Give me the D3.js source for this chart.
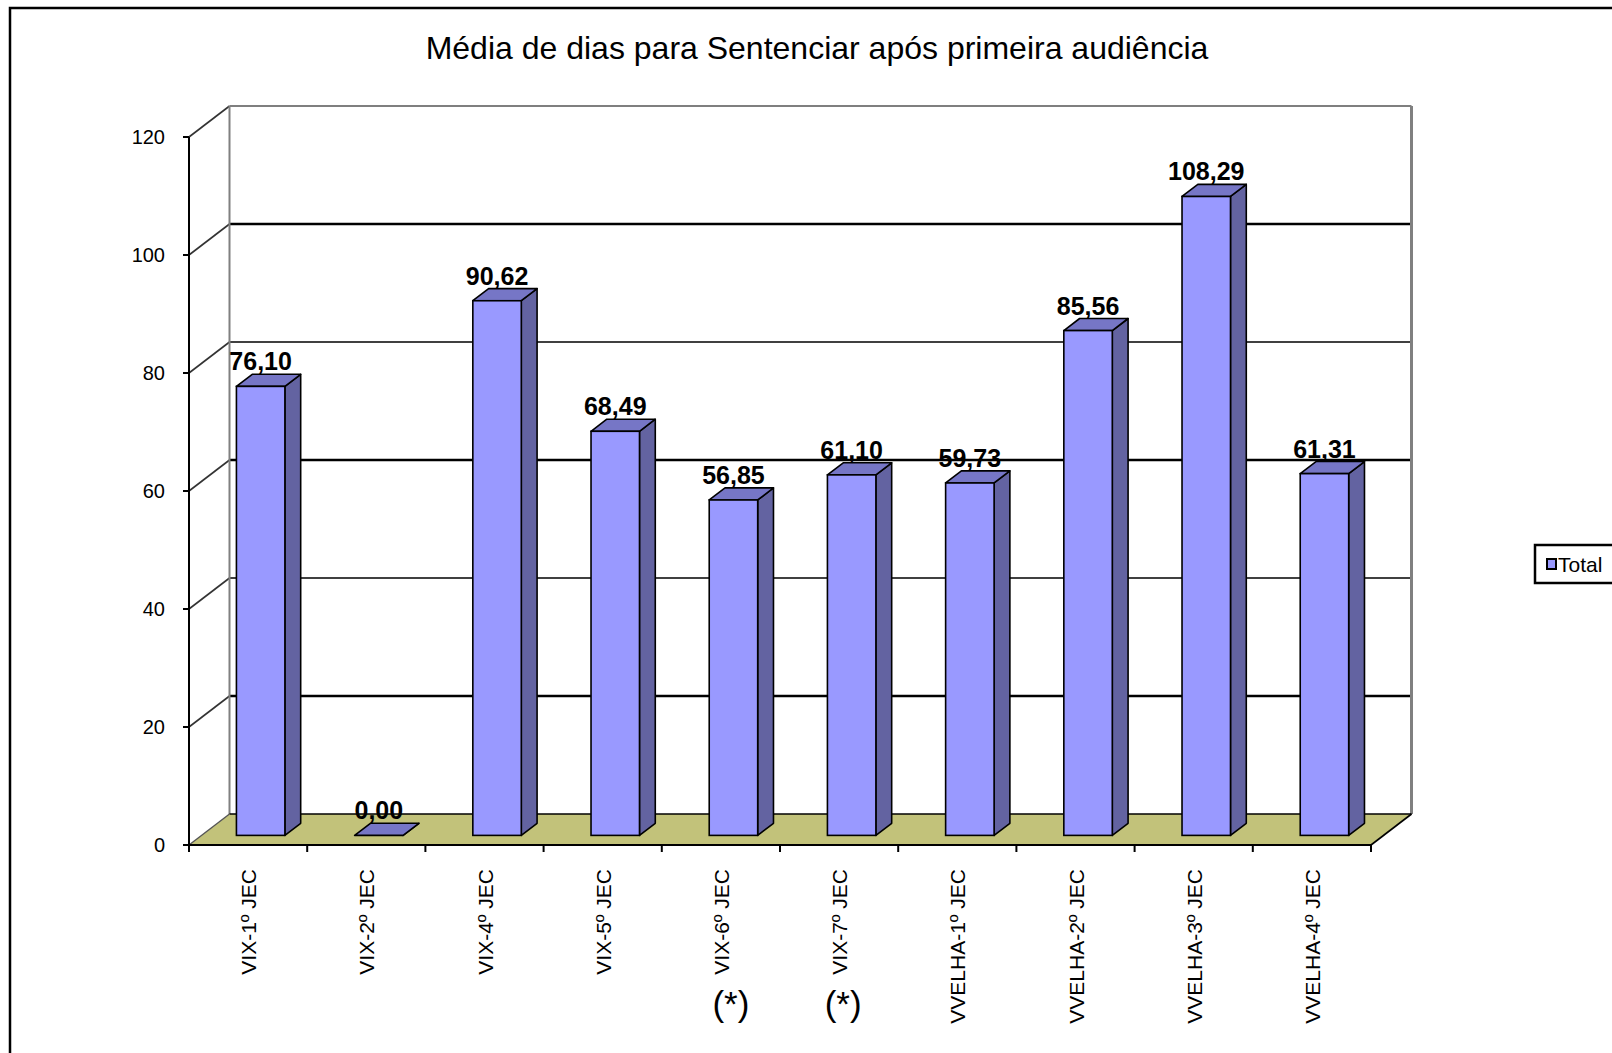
<!DOCTYPE html>
<html>
<head>
<meta charset="utf-8">
<script src="https://cdn.jsdelivr.net/npm/d3@7"></script>
<style>
  html, body { margin: 0; padding: 0; background: #fff; overflow: hidden; }
  svg { display: block; font-family: Arial, "Liberation Sans", sans-serif; }
</style>
</head>
<body>
<svg id="chart" width="1612" height="1053"></svg>
<script>
var title = "Média de dias para Sentenciar após primeira audiência";
var categories = ["VIX-1º JEC", "VIX-2º JEC", "VIX-4º JEC", "VIX-5º JEC", "VIX-6º JEC",
                  "VIX-7º JEC", "VVELHA-1º JEC", "VVELHA-2º JEC", "VVELHA-3º JEC", "VVELHA-4º JEC"];
var values = [76.10, 0.00, 90.62, 68.49, 56.85, 61.10, 59.73, 85.56, 108.29, 61.31];
var notes = ["", "", "", "", "(*)", "(*)", "", "", "", ""];
var y_ticks = [0, 20, 40, 60, 80, 100, 120];
var series_name = "Total";

var svg = d3.select("#chart");

// front plane of the 3d box
var left = 189, right = 1371, bottom = 845, top_ = 137;
// depth offset of the back wall
var dx = 40.5, dy = -31;
var bar_front = 0.31, bar_back = 0.70;

var x = d3.scaleBand().domain(categories).range([left, right]).padding(0);
var y = d3.scaleLinear().domain([0, 120]).range([bottom, top_]);
var bar_w = x.bandwidth() * 0.41;

function fmt(v) { return d3.format(".2f")(v).replace(".", ","); }
function pts(a) { return a.map(p => p.join(",")).join(" "); }

// outer frame
svg.append("rect")
    .attr("x", 10).attr("y", 8).attr("width", 1640).attr("height", 1080)
    .attr("fill", "none").attr("stroke", "#000").attr("stroke-width", 2.5);

svg.append("text")
    .attr("x", 817).attr("y", 59)
    .attr("text-anchor", "middle")
    .style("font-size", "32px")
    .text(title);

// back wall
svg.append("rect")
    .attr("x", left + dx).attr("y", y(120) + dy)
    .attr("width", right - left).attr("height", bottom - y(120))
    .attr("fill", "#fff");

var grid = y_ticks.filter(d => d > 0);

// gridlines on back wall
svg.selectAll(".grid")
    .data(grid)
    .enter()
    .append("line")
    .attr("x1", left + dx).attr("x2", right + dx)
    .attr("y1", d => y(d) + dy).attr("y2", d => y(d) + dy)
    .attr("stroke", d => d == 120 ? "#555" : "#000")
    .attr("stroke-width", d => d % 40 == 20 ? 2.4 : 1.4);

// gridlines on side wall
svg.selectAll(".side_grid")
    .data(grid)
    .enter()
    .append("line")
    .attr("x1", left).attr("x2", left + dx)
    .attr("y1", d => y(d)).attr("y2", d => y(d) + dy)
    .attr("stroke", "#333")
    .attr("stroke-width", 1.6);

// wall edges
svg.append("line")
    .attr("x1", left + dx).attr("x2", left + dx)
    .attr("y1", y(120) + dy).attr("y2", bottom + dy)
    .attr("stroke", "#808080").attr("stroke-width", 2);
svg.append("line")
    .attr("x1", right + dx).attr("x2", right + dx)
    .attr("y1", y(120) + dy).attr("y2", bottom + dy)
    .attr("stroke", "#808080").attr("stroke-width", 3);

// floor
svg.append("polygon")
    .attr("points", pts([[left, bottom], [left + dx, bottom + dy], [right + dx, bottom + dy], [right, bottom]]))
    .attr("fill", "#c2c27a")
    .attr("stroke", "none");
svg.append("line")
    .attr("x1", left + dx).attr("x2", right + dx)
    .attr("y1", bottom + dy).attr("y2", bottom + dy)
    .attr("stroke", "#000").attr("stroke-width", 1.4);
svg.append("line")
    .attr("x1", right).attr("x2", right + dx)
    .attr("y1", bottom).attr("y2", bottom + dy)
    .attr("stroke", "#000").attr("stroke-width", 1.6);
svg.append("line")
    .attr("x1", left).attr("x2", left + dx)
    .attr("y1", bottom).attr("y2", bottom + dy)
    .attr("stroke", "#555").attr("stroke-width", 1.4);

// bars
var bars = svg.selectAll(".bar")
    .data(values.map((v, i) => ({cat: categories[i], value: v})))
    .enter()
    .append("g")
    .attr("class", "bar");

function corners(d) {
    var x0 = x(d.cat) + (x.bandwidth() - bar_w) / 2 + dx * bar_front;
    var x1 = x0 + bar_w;
    var yb = y(0) + dy * bar_front;
    var yt = y(d.value) + dy * bar_front;
    var ox = dx * (bar_back - bar_front), oy = dy * (bar_back - bar_front);
    return {x0: x0, x1: x1, yb: yb, yt: yt, ox: ox, oy: oy};
}

bars.append("polygon")
    .attr("points", function(d) {
        var c = corners(d);
        return pts([[c.x1, c.yb], [c.x1 + c.ox, c.yb + c.oy], [c.x1 + c.ox, c.yt + c.oy], [c.x1, c.yt]]);
    })
    .attr("fill", "#6363a1")
    .attr("stroke", "#000").attr("stroke-width", 1.6).attr("stroke-linejoin", "round");

bars.append("polygon")
    .attr("points", function(d) {
        var c = corners(d);
        return pts([[c.x0, c.yt], [c.x0 + c.ox, c.yt + c.oy], [c.x1 + c.ox, c.yt + c.oy], [c.x1, c.yt]]);
    })
    .attr("fill", "#7676c6")
    .attr("stroke", "#000").attr("stroke-width", 1.6).attr("stroke-linejoin", "round");

bars.append("rect")
    .attr("x", d => corners(d).x0)
    .attr("y", d => corners(d).yt)
    .attr("width", bar_w)
    .attr("height", d => corners(d).yb - corners(d).yt)
    .attr("fill", "#9999ff")
    .attr("stroke", "#000").attr("stroke-width", 1.6);

bars.append("text")
    .attr("x", d => corners(d).x0 + bar_w / 2)
    .attr("y", d => corners(d).yt - 16)
    .attr("text-anchor", "middle")
    .style("font-size", "25px")
    .style("font-weight", "bold")
    .text(d => fmt(d.value));

// y axis
svg.append("line")
    .attr("x1", left).attr("x2", left)
    .attr("y1", y(120)).attr("y2", bottom)
    .attr("stroke", "#000").attr("stroke-width", 2);
svg.selectAll(".ytick")
    .data(y_ticks)
    .enter()
    .append("line")
    .attr("x1", left - 6).attr("x2", left)
    .attr("y1", d => y(d)).attr("y2", d => y(d))
    .attr("stroke", "#000").attr("stroke-width", 2);
svg.selectAll(".ylabel")
    .data(y_ticks)
    .enter()
    .append("text")
    .attr("x", 165)
    .attr("y", d => y(d) + 7)
    .attr("text-anchor", "end")
    .style("font-size", "20px")
    .text(d => d);

// x axis
svg.append("line")
    .attr("x1", left).attr("x2", right)
    .attr("y1", bottom).attr("y2", bottom)
    .attr("stroke", "#000").attr("stroke-width", 2);
svg.selectAll(".xtick")
    .data(categories.concat([null]))
    .enter()
    .append("line")
    .attr("x1", d => d == null ? right : x(d))
    .attr("x2", d => d == null ? right : x(d))
    .attr("y1", bottom).attr("y2", bottom + 7)
    .attr("stroke", "#000").attr("stroke-width", 2);

svg.selectAll(".xlabel")
    .data(categories)
    .enter()
    .append("text")
    .attr("transform", d => "translate(" + (x(d) + x.bandwidth() / 2 + 8) + "," + 869 + ") rotate(-90)")
    .attr("text-anchor", "end")
    .style("font-size", "21px")
    .text(d => d);

// "(*)" notes under some categories
var note_dx = [0, 0, 0, 0, 10, 4, 0, 0, 0, 0];
svg.selectAll(".note")
    .data(categories.map((c, i) => ({cat: c, note: notes[i], off: note_dx[i]})).filter(d => d.note))
    .enter()
    .append("text")
    .attr("x", d => x(d.cat) + x.bandwidth() / 2 + d.off)
    .attr("y", 1016)
    .attr("text-anchor", "middle")
    .style("font-size", "35px")
    .text(d => d.note);

// legend
var legend = svg.append("g").attr("transform", "translate(1535,545)");
legend.append("rect")
    .attr("width", 100).attr("height", 38)
    .attr("fill", "#fff").attr("stroke", "#000").attr("stroke-width", 2.5);
legend.append("rect")
    .attr("x", 12).attr("y", 14).attr("width", 9).attr("height", 10)
    .attr("fill", "#9999ff").attr("stroke", "#000").attr("stroke-width", 2);
legend.append("text")
    .attr("x", 23).attr("y", 27)
    .style("font-size", "21px")
    .text(series_name);
</script>
</body>
</html>
